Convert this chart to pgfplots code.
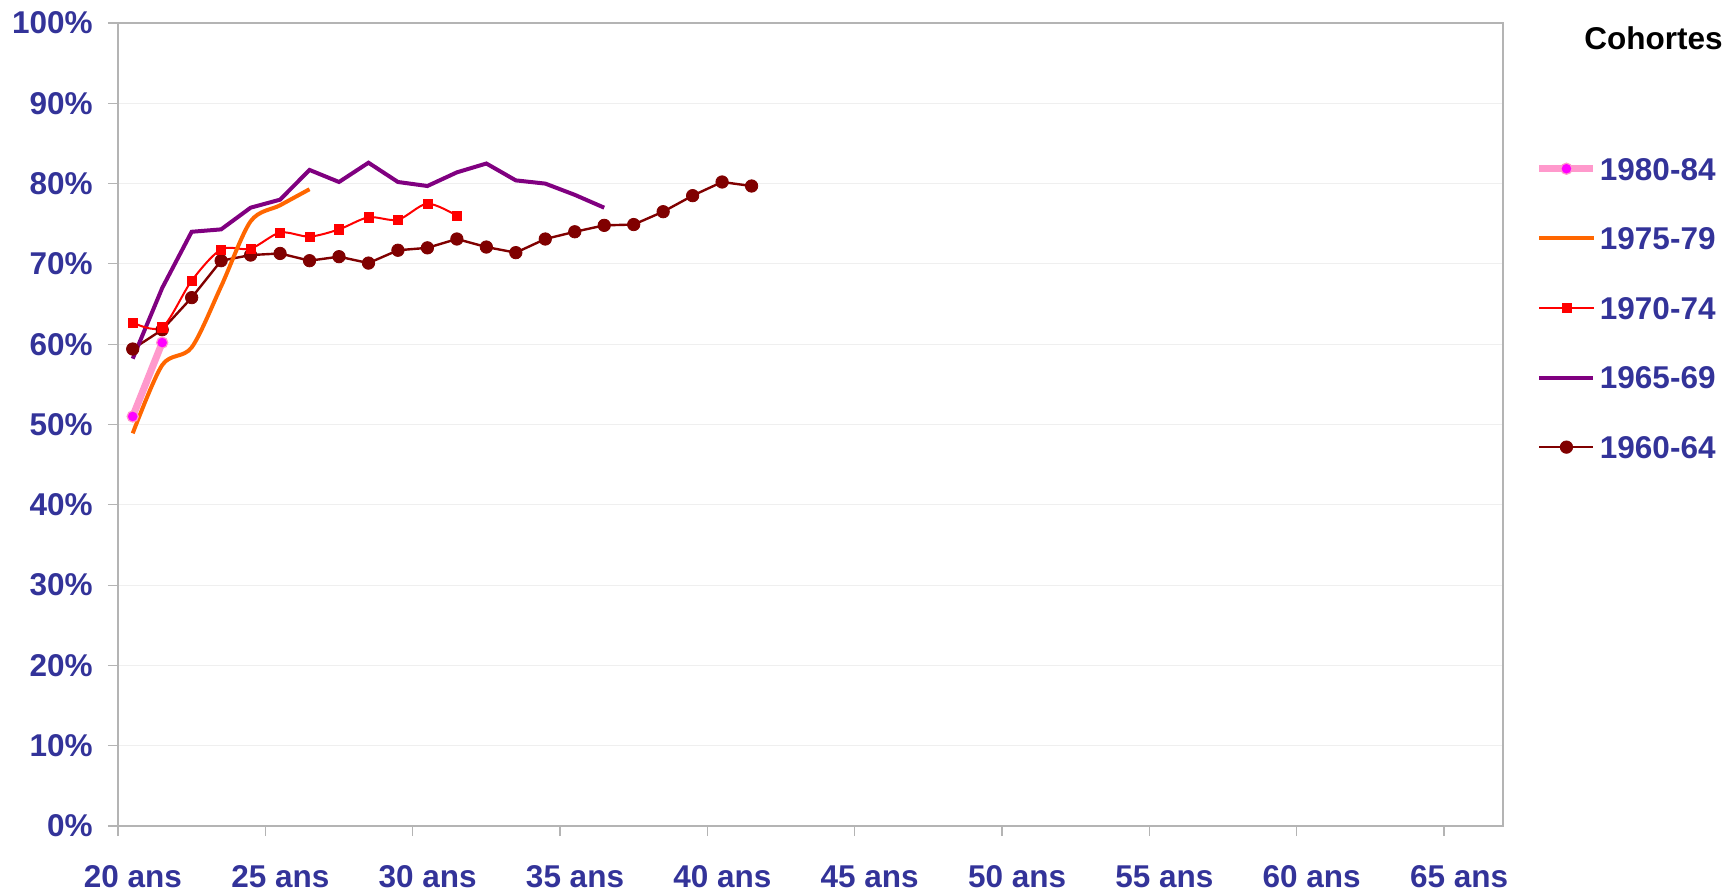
\documentclass[border=0pt]{standalone}
\usepackage{pgfplots}
\pgfplotsset{compat=1.18}
\usepackage{fontspec}
\setmainfont{Liberation Sans}
\definecolor{txt}{HTML}{333399}
\definecolor{c80}{HTML}{FF99CC}
\definecolor{c80m}{HTML}{FF00FF}
\definecolor{c75}{HTML}{FF6600}
\definecolor{c70}{HTML}{FF0000}
\definecolor{c65}{HTML}{800080}
\definecolor{c60}{HTML}{800000}
\definecolor{framec}{HTML}{B4B4B4}
\definecolor{gridc}{HTML}{EFEFEF}
\newcommand{\lblfont}{\fontsize{15.75}{18}\selectfont\bfseries}
\begin{document}
\begin{tikzpicture}
\useasboundingbox (-59pt,-32.5pt) rectangle (806.5pt,413pt);
\begin{axis}[
  at={(0pt,0pt)}, anchor=south west, scale only axis,
  width=692.5pt, height=401.5pt,
  xmin=20, xmax=67, ymin=0, ymax=100,
  clip=false,
  xtick={20,25,...,65}, ytick={0,10,...,100},
  xtick pos=bottom, ytick pos=left,
  xticklabel={\pgfmathprintnumber{\tick} ans},
  yticklabel={\pgfmathprintnumber{\tick}\%},
  /pgf/number format/assume math mode=true,
  tick align=outside, major tick length=5pt,
  tick style={framec, line width=0.6pt},
  axis line style={framec, line width=1pt},
  ymajorgrids, grid style={gridc, line width=0.6pt},
  ticklabel style={font=\lblfont, text=txt},
  xticklabel style={anchor=north, inner sep=0pt, yshift=-14.5pt, xshift=7.5pt},
  yticklabel style={anchor=east, inner sep=0pt, xshift=-7.5pt},
  legend style={at={(1.0235,0.8331)}, anchor=north west, draw=none, fill=none,
    inner sep=0pt, row sep=23.5pt, column sep=1.5pt,
    nodes={inner sep=0pt, text height=11.3pt, text depth=0pt, font=\lblfont, text=txt}},
  legend cell align=left,
  legend image code/.code={\draw[mark repeat=2,mark phase=2,#1] plot coordinates {(0pt,0pt) (13.5pt,0pt) (27pt,0pt)};},
  reverse legend,
]
\addplot[c60, line width=1.2pt, mark=*, mark size=3.1pt, mark options={fill=c60, draw=c60, line width=0.4pt}] coordinates {
(20.5,59.4) (21.5,61.8) (22.5,65.8) (23.5,70.4) (24.5,71.1) (25.5,71.3) (26.5,70.4) (27.5,70.9)
(28.5,70.1) (29.5,71.7) (30.5,72.0) (31.5,73.1) (32.5,72.1) (33.5,71.4) (34.5,73.1) (35.5,74.0)
(36.5,74.8) (37.5,74.9) (38.5,76.5) (39.5,78.5) (40.5,80.2) (41.5,79.7)};
\addlegendentry{1960-64}
\addplot[c65, line width=2pt] coordinates {
(20.5,58.2) (21.5,67.0) (22.5,74.0) (23.5,74.3) (24.5,77.0) (25.5,78.0) (26.5,81.7) (27.5,80.2)
(28.5,82.6) (29.5,80.2) (30.5,79.7) (31.5,81.4) (32.5,82.5) (33.5,80.4) (34.5,80.0) (35.5,78.6)
(36.5,77.0)};
\addlegendentry{1965-69}
\addplot[c70, line width=1pt, smooth, mark=square*, mark size=2.3pt, mark options={fill=c70, draw=c70, line width=0.3pt}] coordinates {
(20.5,62.7) (21.5,62.1) (22.5,67.9) (23.5,71.8) (24.5,71.9) (25.5,73.9) (26.5,73.4) (27.5,74.3)
(28.5,75.8) (29.5,75.5) (30.5,77.5) (31.5,76.0)};
\addlegendentry{1970-74}
\addplot[c75, line width=2pt, smooth] coordinates {
(20.5,48.9) (21.5,57.4) (22.5,59.6) (23.5,67.2) (24.5,75.3) (25.5,77.3) (26.5,79.3)};
\addlegendentry{1975-79}
\addplot[c80, line width=3.5pt, mark=*, mark size=2.8pt, mark options={fill=c80m, draw=c80, line width=0.6pt}] coordinates {
(20.5,51.0) (21.5,60.2)};
\addlegendentry{1980-84}
\node[anchor=base east, font=\lblfont, text=black, inner sep=0pt] at (rel axis cs:1.1588,0.9664) {Cohortes};
\end{axis}
\end{tikzpicture}
\end{document}
